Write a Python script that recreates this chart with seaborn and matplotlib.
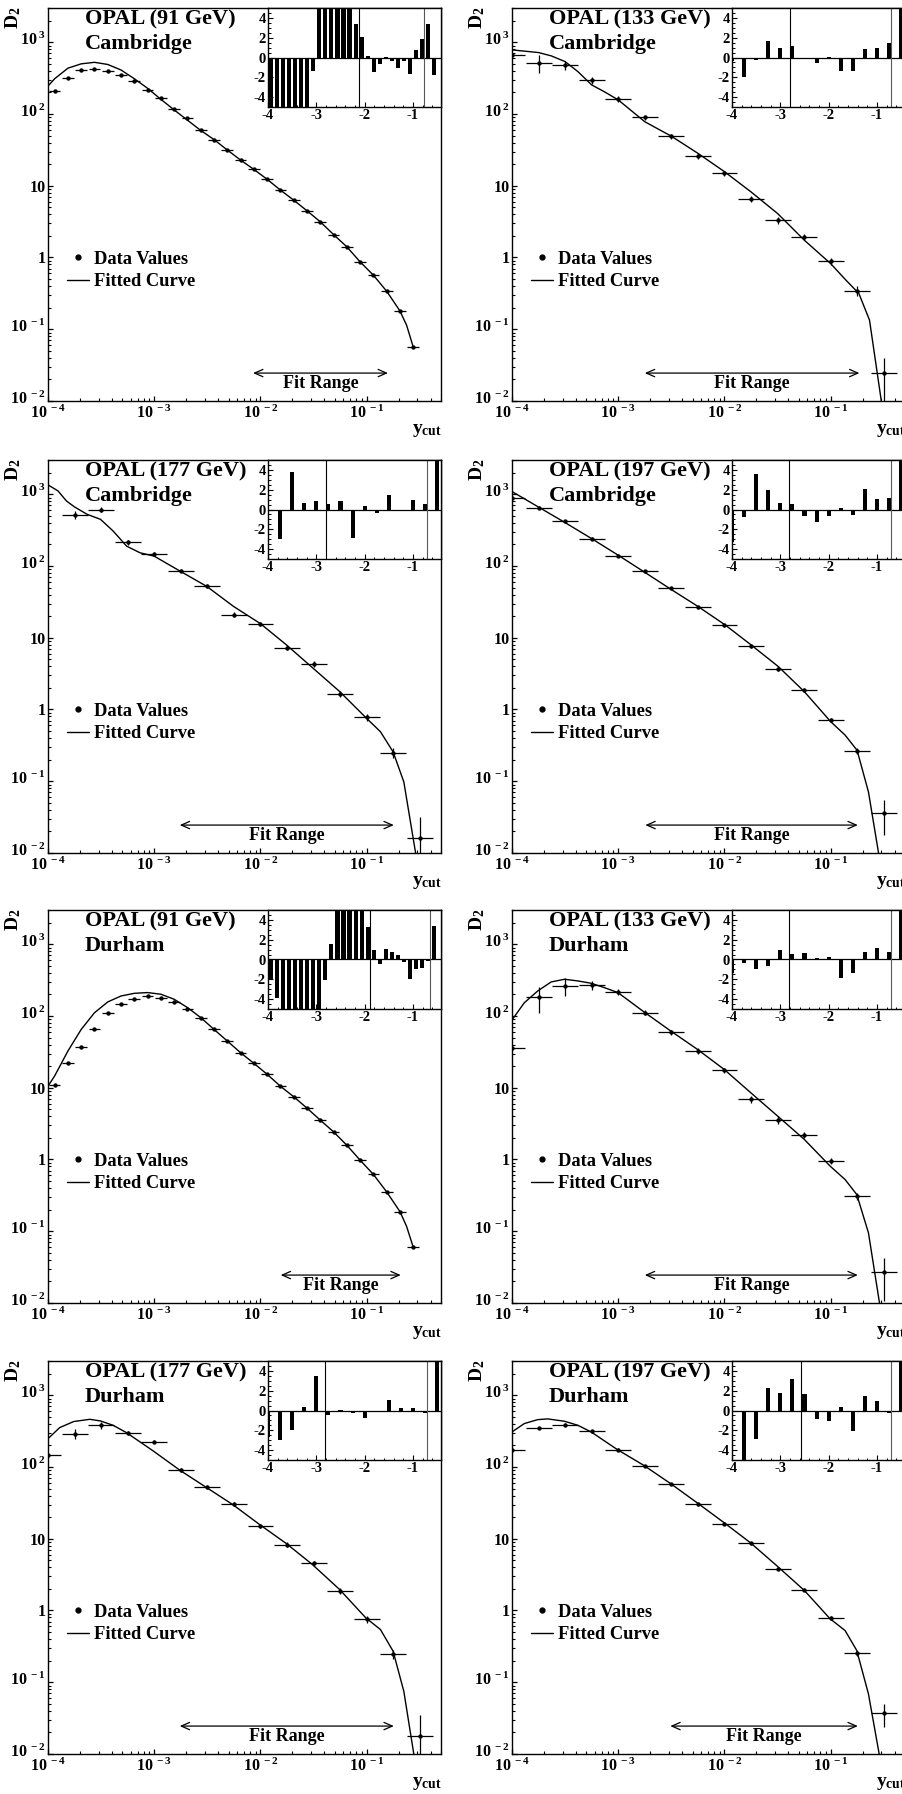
import matplotlib
matplotlib.use("Agg")
import matplotlib.pyplot as plt
import numpy as np
import seaborn as sns
from matplotlib.lines import Line2D
from matplotlib.ticker import LogLocator, MultipleLocator, NullFormatter
from matplotlib.transforms import ScaledTranslation


# ---- values --------------------------------------------------------------
# bin centres in log10(y_cut)
LOGX_91 = [-3.9375, -3.8125, -3.6875, -3.5625, -3.4375, -3.3125, -3.1875,
           -3.0625, -2.9375, -2.8125, -2.6875, -2.5625, -2.4375, -2.3125,
           -2.1875, -2.0625, -1.9375, -1.8125, -1.6875, -1.5625, -1.4375,
           -1.3125, -1.1875, -1.0625, -0.9375, -0.8125, -0.6875, -0.5625]
LOGX_HIGH = [-4.0, -3.75, -3.5, -3.25, -3.0, -2.75, -2.5, -2.25, -2.0,
             -1.75, -1.5, -1.25, -1.0, -0.75, -0.5]
CURVE_X_91 = [-4.0, -3.9375, -3.8125, -3.6875, -3.5625, -3.4375, -3.3125,
              -3.1875, -3.0625, -2.9375, -2.8125, -2.6875, -2.5625, -2.4375,
              -2.3125, -2.1875, -2.0625, -1.9375, -1.8125, -1.6875, -1.5625,
              -1.4375, -1.3125, -1.1875, -1.0625, -0.9375, -0.8125, -0.6875,
              -0.625, -0.5625]

# 91 GeV Cambridge
CAM91_D2 = [209, 321, 411, 420, 398, 346, 286, 216, 166, 119, 87, 60, 44,
            31.5, 22.8, 16.9, 12.3, 8.7, 6.3, 4.48, 3.15, 2.09, 1.41, 0.87,
            0.567, 0.339, 0.18, 0.0566]
CAM91_CURVE = [245, 310, 435, 500, 525, 490, 410, 310, 228, 160, 114, 82, 59,
               44, 31.5, 22.8, 16.9, 12.3, 8.7, 6.3, 4.48, 3.15, 2.09, 1.41,
               0.87, 0.567, 0.339, 0.18, 0.114, 0.0566]
CAM91_RESID = [-5, -5, -5, -5, -5, -5, -5, -1.33, 5, 5, 5, 5, 5, 5, 3.4,
               2.08, 0.2, -1.43, -0.65, 0.1, -0.4, -1.1, -0.34, -1.67, 0.78,
               1.88, 3.4, -1.77]
CAM91_FIT = [-2.07, -0.80]
CAM91_LINES = [-2.11, -0.77]

# 133 GeV Cambridge
CAM133_D2 = [665, 520, 483, 295, 162, 91, 49, 26, 14.9, 6.5, 3.3, 1.94,
             0.88, 0.343, 0.0246]
CAM133_ERR = [0.05, 0.28, 0.15, 0.12, 0.10, 0.08, 0.08, 0.10, 0.08, 0.10,
              0.12, 0.10, 0.12, 0.15, 0.6]
CAM133_CX = [-4.0, -3.75, -3.63, -3.5, -3.38, -3.25, -3.13, -3.0, -2.75,
             -2.5, -2.25, -2.0, -1.75, -1.5, -1.25, -1.0, -0.855, -0.735,
             -0.635, -0.524]
CAM133_CURVE = [782, 718, 645, 537, 390, 254, 204, 157, 78, 49, 28.3, 15.7,
                8.2, 4.1, 1.75, 0.82, 0.48, 0.315, 0.134, 0.01]
CAM133_RESID = [-0.4, -2.0, -0.3, 1.7, 1.0, 1.2, -0.05, -0.55, 0.02, -1.37,
                -1.37, 0.85, 0.92, 1.43, 5]
CAM133_FIT = [-2.75, -0.73]
CAM133_LINES = [-2.80, -0.71]

# 177 GeV Cambridge
CAM177_D2 = [np.nan, 514, 611, 213, 148, 86.5, 52.8, 21, 15.4, 7.3, 4.3,
             1.66, 0.785, 0.249, 0.0162]
CAM177_ERR = [0.0, 0.12, 0.08, 0.07, 0.06, 0.06, 0.06, 0.08, 0.06, 0.08,
              0.10, 0.10, 0.12, 0.15, 0.95]
CAM177_CX = [-4.0, -3.906, -3.827, -3.75, -3.632, -3.506, -3.387, -3.26,
             -3.135, -3.0, -2.758, -2.506, -2.255, -2.0, -1.758, -1.506,
             -1.255, -1.0, -0.871, -0.752, -0.651, -0.54]
CAM177_CURVE = [1350, 1113, 807, 665, 525, 447, 307, 189, 153, 137, 85, 52,
                27.4, 15.7, 8.0, 3.77, 1.78, 0.75, 0.49, 0.257, 0.098, 0.01]
CAM177_RESID = [0, -2.96, 3.76, 0.64, 0.9, 0.57, 0.84, -2.9, 0.4, -0.34,
                1.48, -0.13, 0.97, 0.57, 5]
CAM177_FIT = [-2.76, -0.745]
CAM177_LINES = [-2.81, -0.71]

# 197 GeV Cambridge
CAM197_D2 = [900, 651, 419, 240, 140, 84, 49, 26.6, 14.9, 7.6, 3.65, 1.89,
             0.72, 0.265, 0.036]
CAM197_ERR = [0.05, 0.04, 0.04, 0.04, 0.04, 0.04, 0.04, 0.05, 0.05, 0.05,
              0.06, 0.06, 0.07, 0.10, 0.5]
CAM197_CX = [-4.0, -3.752, -3.5, -3.255, -3.003, -2.758, -2.5, -2.248,
             -1.997, -1.752, -1.494, -1.248, -1.0, -0.865, -0.752, -0.645,
             -0.55]
CAM197_CURVE = [1090, 665, 402, 243, 142, 83, 46.9, 27.2, 15.2, 8.0, 3.97,
                1.77, 0.676, 0.44, 0.27, 0.071, 0.01]
CAM197_RESID = [-3.3, -0.73, 3.57, 2.0, 0.67, 0.57, -0.67, -1.23, -0.63,
                0.17, -0.57, 2.1, 1.07, 1.17, 5]
CAM197_FIT = [-2.745, -0.745]
CAM197_LINES = [-2.82, -0.72]

# 91 GeV Durham
DUR91_D2 = [10.9, 21.9, 36.9, 65, 111, 146, 175, 190, 177, 157, 124, 93, 65,
            44.8, 30.8, 21.9, 15.4, 10.5, 7.5, 5.2, 3.54, 2.43, 1.58, 0.98,
            0.62, 0.354, 0.188, 0.060]
DUR91_CURVE = [10.5, 14.6, 32.5, 65, 111, 157, 190, 207, 212, 201, 171, 131,
               95, 65, 44.8, 30.8, 21.9, 15.4, 10.5, 7.5, 5.2, 3.54, 2.43,
               1.58, 0.98, 0.62, 0.354, 0.188, 0.117, 0.060]
DUR91_RESID = [-1.95, -3.9, -5, -5, -5, -5, -5, -5, -5, -2.05, 1.54, 5, 5, 5,
               5, 5, 3.28, 0.96, -0.41, 1.02, 0.72, 0.44, -0.24, -1.95, -0.99,
               -0.82, -0.14, 3.41]
DUR91_FIT = [-1.81, -0.68]
DUR91_LINES = [-1.88, -0.65]

# 133 GeV Durham
DUR133_D2 = [35.4, 184, 262, 268, 219, 111, 60, 32.5, 17.7, 6.9, 3.6, 2.19,
             0.95, 0.308, 0.0268]
DUR133_ERR = [0.05, 0.40, 0.28, 0.15, 0.10, 0.08, 0.08, 0.10, 0.08, 0.12,
              0.12, 0.10, 0.10, 0.12, 0.6]
DUR133_CX = [-4.0, -3.884, -3.758, -3.632, -3.506, -3.38, -3.255, -3.129,
             -3.003, -2.758, -2.506, -2.255, -2.003, -1.752, -1.5, -1.248,
             -1.006, -0.865, -0.755, -0.645, -0.541]
DUR133_CURVE = [88, 153, 223, 298, 325, 308, 286, 248, 212, 114, 61.8, 34.3,
                18.0, 8.5, 4.03, 1.9, 0.81, 0.526, 0.325, 0.095, 0.01]
DUR133_RESID = [-1.4, -0.34, -0.95, -0.68, 0.92, 0.58, 0.61, 0.14, 0.27,
                -1.9, -1.36, 0.78, 1.12, 0.78, 5]
DUR133_FIT = [-2.75, -0.745]
DUR133_LINES = [-2.82, -0.72]

# 177 GeV Durham
DUR177_D2 = [146, 292, 381, 301, 225, 91, 52.6, 30.8, 15.2, 8.3, 4.57, 1.86,
             0.75, 0.246, 0.018]
DUR177_ERR = [0.05, 0.15, 0.10, 0.06, 0.05, 0.05, 0.05, 0.06, 0.06, 0.07,
              0.08, 0.10, 0.12, 0.15, 0.95]
DUR177_CX = [-4.0, -3.89, -3.758, -3.607, -3.506, -3.387, -3.261, -3.009,
             -2.758, -2.506, -2.255, -2.009, -1.758, -1.513, -1.255, -1.009,
             -0.871, -0.752, -0.651, -0.557]
DUR177_CURVE = [248, 354, 430, 462, 438, 381, 301, 167, 90, 51.5, 29.5, 15.8,
                8.6, 4.39, 1.96, 0.79, 0.543, 0.271, 0.0748, 0.01]
DUR177_RESID = [-2.7, -3.0, -2.0, 0.38, 3.5, -0.49, 0.07, -0.24, -0.77,
                -0.03, 1.08, 0.28, 0.21, -0.24, 5]
DUR177_FIT = [-2.76, -0.745]
DUR177_LINES = [-2.82, -0.72]

# 197 GeV Durham
DUR197_D2 = [175, 350, 390, 315, 175, 103, 58, 30.1, 16.2, 8.6, 3.81, 1.96,
             0.79, 0.254, 0.037]
DUR197_ERR = [0.05, 0.04, 0.04, 0.04, 0.04, 0.04, 0.04, 0.05, 0.05, 0.05,
              0.05, 0.06, 0.07, 0.08, 0.35]
DUR197_CX = [-4.0, -3.884, -3.758, -3.664, -3.506, -3.38, -3.255, -3.009,
             -2.758, -2.506, -2.255, -2.003, -1.752, -1.5, -1.248, -1.006,
             -0.865, -0.755, -0.645, -0.544]
DUR197_CURVE = [308, 403, 457, 468, 434, 381, 308, 175, 105, 58.5, 31.5,
                16.7, 8.7, 4.11, 1.9, 0.766, 0.526, 0.277, 0.0687, 0.01]
DUR197_RESID = [0, -5, -2.85, 2.26, 1.74, 3.17, 1.67, -0.83, -1.04, 0.35,
                -2.05, 1.43, 0.97, -0.24, 5]
DUR197_FIT = [-2.51, -0.745]
DUR197_LINES = [-2.57, -0.72]

REL_ERR_91 = 0.02

X_TICKS = [1e-4, 1e-3, 1e-2, 1e-1]
X_LABELS = [r"$10^{\;-4}$", r"$10^{\;-3}$", r"$10^{\;-2}$", r"$10^{\;-1}$"]
Y_TICKS = [1e-2, 1e-1, 1, 10, 1e2, 1e3]
Y_LABELS = [r"$10^{\;-2}$", r"$10^{\;-1}$", "1", "10", r"$10^{\;2}$", r"$10^{\;3}$"]

PANELS = [
    ("OPAL (91 GeV)\nCambridge", LOGX_91, CAM91_D2, REL_ERR_91, 0.055,
     CURVE_X_91, CAM91_CURVE, CAM91_RESID, CAM91_FIT, CAM91_LINES),
    ("OPAL (133 GeV)\nCambridge", LOGX_HIGH, CAM133_D2, CAM133_ERR, 0.122,
     CAM133_CX, CAM133_CURVE, CAM133_RESID, CAM133_FIT, CAM133_LINES),
    ("OPAL (177 GeV)\nCambridge", LOGX_HIGH, CAM177_D2, CAM177_ERR, 0.122,
     CAM177_CX, CAM177_CURVE, CAM177_RESID, CAM177_FIT, CAM177_LINES),
    ("OPAL (197 GeV)\nCambridge", LOGX_HIGH, CAM197_D2, CAM197_ERR, 0.122,
     CAM197_CX, CAM197_CURVE, CAM197_RESID, CAM197_FIT, CAM197_LINES),
    ("OPAL (91 GeV)\nDurham", LOGX_91, DUR91_D2, REL_ERR_91, 0.055,
     CURVE_X_91, DUR91_CURVE, DUR91_RESID, DUR91_FIT, DUR91_LINES),
    ("OPAL (133 GeV)\nDurham", LOGX_HIGH, DUR133_D2, DUR133_ERR, 0.122,
     DUR133_CX, DUR133_CURVE, DUR133_RESID, DUR133_FIT, DUR133_LINES),
    ("OPAL (177 GeV)\nDurham", LOGX_HIGH, DUR177_D2, DUR177_ERR, 0.122,
     DUR177_CX, DUR177_CURVE, DUR177_RESID, DUR177_FIT, DUR177_LINES),
    ("OPAL (197 GeV)\nDurham", LOGX_HIGH, DUR197_D2, DUR197_ERR, 0.122,
     DUR197_CX, DUR197_CURVE, DUR197_RESID, DUR197_FIT, DUR197_LINES),
]

# ---- layout (pixels of the 902x1794 canvas) ---------------------------------
FIG_W, FIG_H = 902, 1794
ROW_TOPS = [8, 460, 910, 1361]
COL_LEFTS = [48, 512]
AX_PX = 393
INSET_DX, INSET_W, INSET_H = 220, 173, 99


def _setup_style():
    sns.set_theme(style="ticks")
    plt.rcParams["font.family"] = ["Liberation Serif", "DejaVu Serif"]
    plt.rcParams["font.weight"] = "bold"
    plt.rcParams["mathtext.fontset"] = "custom"
    plt.rcParams["mathtext.rm"] = "Liberation Serif:bold"
    plt.rcParams["mathtext.it"] = "Liberation Serif:bold"
    plt.rcParams["mathtext.bf"] = "Liberation Serif:bold"
    plt.rcParams["mathtext.default"] = "rm"
    plt.rcParams["axes.unicode_minus"] = False
    plt.rcParams["axes.edgecolor"] = "black"
    plt.rcParams["axes.linewidth"] = 1.0
    plt.rcParams["text.color"] = "black"
    plt.rcParams["xtick.color"] = "black"
    plt.rcParams["ytick.color"] = "black"


def _axes_rect(left, top, w, h):
    return [left / FIG_W, 1 - (top + h) / FIG_H, w / FIG_W, h / FIG_H]


def draw_panel(fig, left, top, panel):
    title, logx, d2, err, xhw, cx, cy, resid, fit, lines = panel
    logx = np.asarray(logx, float)
    x = 10 ** logx
    y = np.asarray(d2, float)
    rel = np.broadcast_to(np.asarray(err, float), y.shape)

    ax = fig.add_axes(_axes_rect(left, top, AX_PX, AX_PX))
    ax.errorbar(x, y, xerr=[x - 10 ** (logx - xhw), 10 ** (logx + xhw) - x],
                yerr=y * rel, fmt="none", ecolor="black", elinewidth=0.9,
                capsize=0, zorder=2)
    sns.scatterplot(x=x, y=y, color="black", s=10, linewidth=0, ax=ax, zorder=3)
    sns.lineplot(x=10 ** np.asarray(cx), y=np.asarray(cy, float), sort=False,
                 estimator=None, color="black", lw=1.0, ax=ax, zorder=2)

    ax.set_xscale("log")
    ax.set_yscale("log")
    ax.set_xlim(1e-4, 0.5)
    ax.set_ylim(1e-2, 3e3)
    ax.set_xlabel("")
    ax.set_ylabel("")

    ax.set_xticks(X_TICKS)
    ax.set_xticklabels(X_LABELS)
    ax.set_yticks(Y_TICKS)
    ax.set_yticklabels(Y_LABELS)
    for axis in (ax.xaxis, ax.yaxis):
        axis.set_minor_locator(LogLocator(base=10, subs=np.arange(2, 10), numticks=20))
        axis.set_minor_formatter(NullFormatter())
    ax.tick_params(which="both", direction="in", top=False, right=False)
    ax.tick_params(which="major", length=3.8, width=0.9, labelsize=11.5)
    ax.tick_params(axis="x", which="major", pad=3)
    ax.tick_params(axis="y", which="major", pad=1.5)
    ax.tick_params(which="minor", length=1.9, width=0.8)
    # keep the "10" of the power labels level with its tick
    lift = ScaledTranslation(0, 2.5 / 72, fig.dpi_scale_trans)
    for lab in ax.get_yticklabels():
        if "^" in lab.get_text():
            lab.set_transform(lab.get_transform() + lift)

    # fit range arrow
    ax.annotate("", xy=(10 ** fit[1], 0.0245), xytext=(10 ** fit[0], 0.0245),
                arrowprops=dict(arrowstyle="<->,head_length=0.5,head_width=0.22",
                                color="black", lw=0.9, shrinkA=0, shrinkB=0))
    ax.text(10 ** np.mean(fit), 0.0175, "Fit Range", ha="center", va="center",
            fontsize=13)

    ax.text(0.094, 0.997, title, transform=ax.transAxes, ha="left", va="top",
            fontsize=16, linespacing=1.3)
    ax.text(-0.089, 0.976, r"$D_2$", transform=ax.transAxes, rotation=90,
            ha="center", va="center", fontsize=14)
    ax.text(0.964, -0.076, r"$y_{cut}$", transform=ax.transAxes,
            ha="center", va="center", fontsize=14)

    handles = [Line2D([], [], marker="o", ls="none", color="black", ms=3.5),
               Line2D([], [], color="black", lw=1.0)]
    ax.legend(handles, ["Data Values", "Fitted Curve"], loc="upper left",
              bbox_to_anchor=(0.048, 0.382), frameon=False, fontsize=13.3,
              handlelength=1.2, handletextpad=0.25, labelspacing=0.28,
              borderpad=0, borderaxespad=0)

    # residual inset
    ins = fig.add_axes(_axes_rect(left + INSET_DX, top, INSET_W, INSET_H))
    ins.set_facecolor("white")
    ins.bar(logx, resid, width=0.085, color="black", linewidth=0)
    ins.axhline(0, color="black", lw=0.9)
    ins.axvline(lines[0], color="black", lw=0.8)
    ins.axvline(lines[1], color="0.35", lw=0.8)
    ins.set_xlim(-4, -0.42)
    ins.set_ylim(-5, 5)
    ins.set_xticks([-4, -3, -2, -1])
    ins.set_xticklabels(["-4", "-3", "-2", "-1"])
    ins.set_yticks([-4, -2, 0, 2, 4])
    ins.set_yticklabels(["-4", "-2", "0", "2", "4"])
    ins.xaxis.set_minor_locator(MultipleLocator(0.2))
    ins.yaxis.set_minor_locator(MultipleLocator(0.5))
    ins.tick_params(which="both", direction="in", top=False, right=False)
    ins.tick_params(which="major", length=3.5, width=0.8, labelsize=10.5, pad=1.5)
    ins.tick_params(which="minor", length=1.8, width=0.7)


def main():
    _setup_style()
    fig = plt.figure(figsize=(FIG_W / 100, FIG_H / 100), dpi=100)
    for i, panel in enumerate(PANELS):
        row, col = divmod(i, 2)
        draw_panel(fig, COL_LEFTS[col], ROW_TOPS[row], panel)
    fig.savefig("out.png", dpi=100, facecolor="white")
    plt.close(fig)


if __name__ == "__main__":
    main()
